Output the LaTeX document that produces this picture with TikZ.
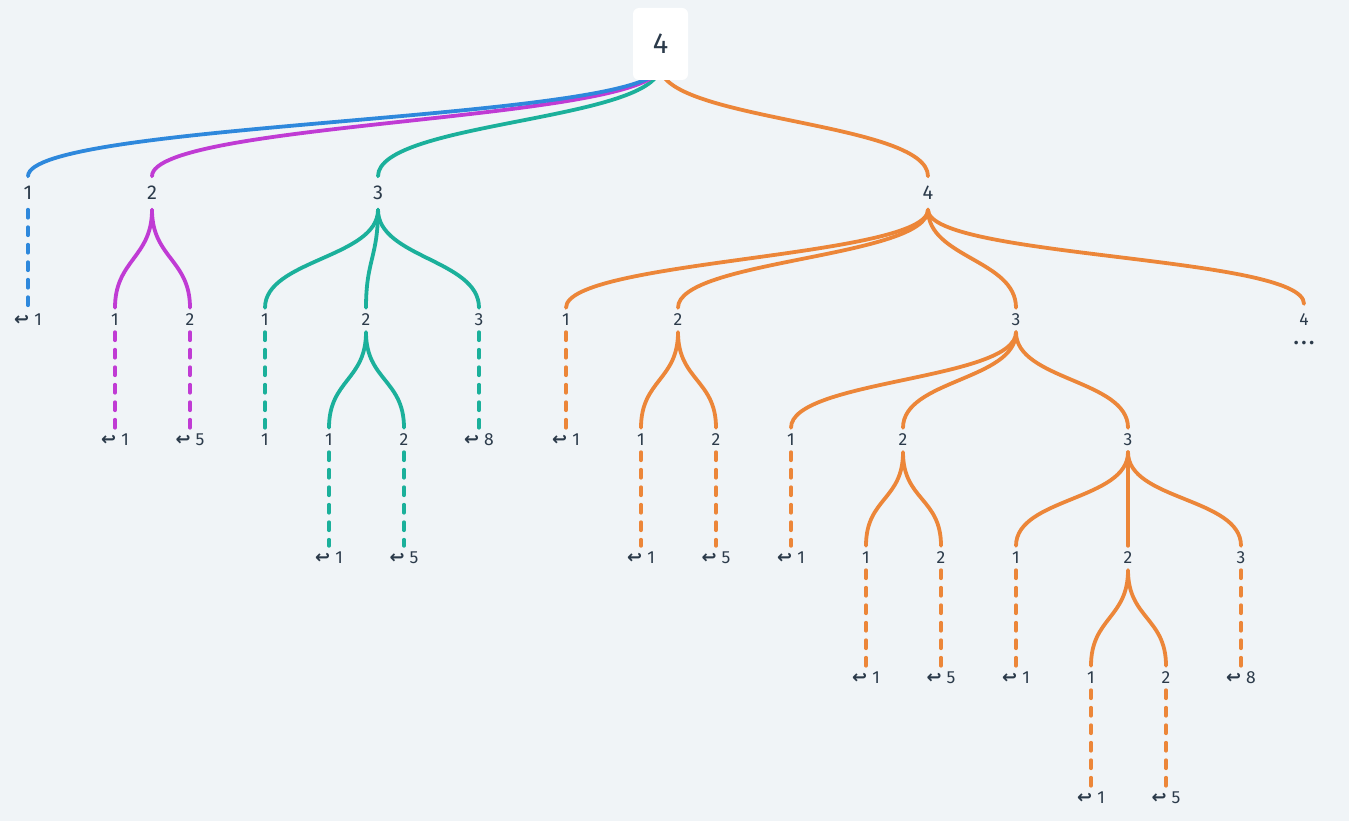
\documentclass[tikz,border=0pt]{standalone}
\usepackage{fontspec}
\setmainfont{Fira Sans}
\newfontfamily\symfont{DejaVu Sans}
\usetikzlibrary{backgrounds}
\definecolor{bg}{HTML}{F0F4F7}
\definecolor{ink}{HTML}{2B3A4A}
\definecolor{blueline}{HTML}{2E88DC}
\definecolor{magline}{HTML}{C03BD4}
\definecolor{tealline}{HTML}{1BB09B}
\definecolor{orangeline}{HTML}{EC8639}
\newcommand{\retarrow}{{\symfont\bfseries\fontsize{18}{20}\selectfont ↩}\hspace{5pt}}
\tikzstyle{rootbox} = [rectangle, rounded corners=6pt, fill=white, minimum width=55pt, minimum height=72pt, text=ink, font=\fontsize{29}{32}\selectfont]
\tikzstyle{num} = [text=ink, inner sep=0pt, minimum height=24pt, font=\fontsize{17.5}{20}\selectfont]
\tikzstyle{topnum} = [num, minimum height=33pt, font=\fontsize{20}{23}\selectfont]
\tikzstyle{link} = [line width=3.8pt, line cap=round, out=-90, in=90, distance=48pt]
\tikzstyle{rootlink} = [link, distance=55pt]
\tikzstyle{leaflink} = [line width=3.8pt, line cap=round, dash pattern=on 8pt off 9.5pt]
\begin{document}
\begin{tikzpicture}[x=1pt, y=1pt]
      \useasboundingbox (0,0) rectangle (1349,-821);
      \node (root) [rootbox] at (660.5,-44) {4};
      \coordinate (rootout) at (660,-66);

      % first level
      \node (n1) [topnum] at (28,-193) {1};
      \node (n2) [topnum] at (152,-193) {2};
      \node (n3) [topnum] at (378,-193) {3};
      \node (n4) [topnum] at (928,-193) {4};

      % second level
      \node (n1r) [num] at (28,-320) {\retarrow 1};
      \node (n21) [num] at (115,-320) {1};
      \node (n22) [num] at (190,-320) {2};
      \node (n31) [num] at (265,-320) {1};
      \node (n32) [num] at (366,-320) {2};
      \node (n33) [num] at (479,-320) {3};
      \node (n41) [num] at (566,-320) {1};
      \node (n42) [num] at (678,-320) {2};
      \node (n43) [num] at (1016,-320) {3};
      \node (n44) [num, minimum height=0pt] at (1304,-320) {4};
      \node (more) [num, minimum height=0pt, font=\bfseries\fontsize{20}{22}\selectfont] at (1304,-343) {.\hspace{3pt}.\hspace{3pt}.};

      % third level
      \node (n21r) [num] at (115,-440) {\retarrow 1};
      \node (n22r) [num] at (190,-440) {\retarrow 5};
      \node (n31r) [num] at (265,-440) {1};
      \node (n321) [num] at (329,-440) {1};
      \node (n322) [num] at (404,-440) {2};
      \node (n33r) [num] at (479,-440) {\retarrow 8};
      \node (n41r) [num] at (566,-440) {\retarrow 1};
      \node (n421) [num] at (641,-440) {1};
      \node (n422) [num] at (716,-440) {2};
      \node (n431) [num] at (791,-440) {1};
      \node (n432) [num] at (903,-440) {2};
      \node (n433) [num] at (1128,-440) {3};

      % fourth level
      \node (n321r) [num] at (329,-558) {\retarrow 1};
      \node (n322r) [num] at (404,-558) {\retarrow 5};
      \node (n421r) [num] at (641,-558) {\retarrow 1};
      \node (n422r) [num] at (716,-558) {\retarrow 5};
      \node (n431r) [num] at (791,-558) {\retarrow 1};
      \node (n4321) [num] at (866,-558) {1};
      \node (n4322) [num] at (941,-558) {2};
      \node (n4331) [num] at (1016,-558) {1};
      \node (n4332) [num] at (1128,-558) {2};
      \node (n4333) [num] at (1241,-558) {3};

      % fifth and sixth level
      \node (n4321r) [num] at (866,-678) {\retarrow 1};
      \node (n4322r) [num] at (941,-678) {\retarrow 5};
      \node (n4331r) [num] at (1016,-678) {\retarrow 1};
      \node (n43321) [num] at (1091,-678) {1};
      \node (n43322) [num] at (1166,-678) {2};
      \node (n4333r) [num] at (1241,-678) {\retarrow 8};
      \node (n43321r) [num] at (1091,-798) {\retarrow 1};
      \node (n43322r) [num] at (1166,-798) {\retarrow 5};

      \begin{pgfonlayer}{background}
      \fill [bg] (0,0) rectangle (1349,-821);

      \draw [rootlink, color=orangeline] (rootout) to (n4.north);
      \draw [rootlink, color=tealline] (rootout) to (n3.north);
      \draw [rootlink, color=magline] (rootout) to (n2.north);
      \draw [rootlink, color=blueline] (rootout) to (n1.north);
      \end{pgfonlayer}

      \draw [leaflink, color=blueline] (n1.south) -- (n1r.north);

      \draw [link, color=magline] (n2.south) to (n21.north);
      \draw [link, color=magline] (n2.south) to (n22.north);
      \draw [leaflink, color=magline] (n21.south) -- (n21r.north);
      \draw [leaflink, color=magline] (n22.south) -- (n22r.north);

      \draw [link, color=tealline] (n3.south) to (n31.north);
      \draw [link, color=tealline] (n3.south) to (n32.north);
      \draw [link, color=tealline] (n3.south) to (n33.north);
      \draw [leaflink, color=tealline] (n31.south) -- (n31r.north);
      \draw [leaflink, color=tealline] (n33.south) -- (n33r.north);
      \draw [link, color=tealline] (n32.south) to (n321.north);
      \draw [link, color=tealline] (n32.south) to (n322.north);
      \draw [leaflink, color=tealline] (n321.south) -- (n321r.north);
      \draw [leaflink, color=tealline] (n322.south) -- (n322r.north);

      \draw [link, color=orangeline] (n4.south) to (n41.north);
      \draw [link, color=orangeline] (n4.south) to (n42.north);
      \draw [link, color=orangeline] (n4.south) to (n43.north);
      \draw [link, color=orangeline] (n4.south) to ([yshift=10pt]n44.north);
      \draw [leaflink, color=orangeline] (n41.south) -- (n41r.north);
      \draw [link, color=orangeline] (n42.south) to (n421.north);
      \draw [link, color=orangeline] (n42.south) to (n422.north);
      \draw [leaflink, color=orangeline] (n421.south) -- (n421r.north);
      \draw [leaflink, color=orangeline] (n422.south) -- (n422r.north);
      \draw [link, color=orangeline] (n43.south) to (n431.north);
      \draw [link, color=orangeline] (n43.south) to (n432.north);
      \draw [link, color=orangeline] (n43.south) to (n433.north);
      \draw [leaflink, color=orangeline] (n431.south) -- (n431r.north);
      \draw [link, color=orangeline] (n432.south) to (n4321.north);
      \draw [link, color=orangeline] (n432.south) to (n4322.north);
      \draw [leaflink, color=orangeline] (n4321.south) -- (n4321r.north);
      \draw [leaflink, color=orangeline] (n4322.south) -- (n4322r.north);
      \draw [link, color=orangeline] (n433.south) to (n4331.north);
      \draw [link, color=orangeline] (n433.south) to (n4332.north);
      \draw [link, color=orangeline] (n433.south) to (n4333.north);
      \draw [leaflink, color=orangeline] (n4331.south) -- (n4331r.north);
      \draw [leaflink, color=orangeline] (n4333.south) -- (n4333r.north);
      \draw [link, color=orangeline] (n4332.south) to (n43321.north);
      \draw [link, color=orangeline] (n4332.south) to (n43322.north);
      \draw [leaflink, color=orangeline] (n43321.south) -- (n43321r.north);
      \draw [leaflink, color=orangeline] (n43322.south) -- (n43322r.north);
    \end{tikzpicture}
\end{document}
